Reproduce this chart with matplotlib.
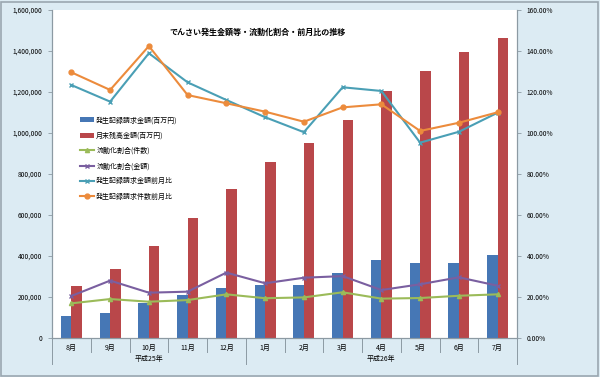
import matplotlib
matplotlib.use("Agg")
import matplotlib.pyplot as plt
import numpy as np
from matplotlib.patches import Rectangle

plt.rcParams['font.family'] = ['Noto Sans CJK JP', 'DejaVu Sans']

months = ["8月", "9月", "10月", "11月", "12月", "1月", "2月", "3月", "4月", "5月", "6月", "7月"]
years = ["平成25年", "平成26年"]
year_span = [5, 7]  # 各年の月数

hassei = [105000, 120000, 169000, 210000, 242000, 259000, 258000, 317000, 382000, 364000, 364000, 403000]
zandaka = [252000, 338000, 447000, 584000, 725000, 857000, 951000, 1063000, 1206000, 1304000, 1393000, 1463000]
ryudo_ken = [16.9, 19.0, 17.7, 18.5, 21.3, 19.4, 19.8, 22.3, 19.2, 19.5, 20.6, 21.3]
ryudo_kin = [20.5, 28.0, 22.1, 22.6, 31.9, 26.7, 29.4, 30.2, 23.4, 26.2, 29.6, 25.5]
kin_zengetsu = [123.4, 115.3, 138.9, 124.7, 116.1, 107.7, 100.4, 122.3, 120.5, 95.3, 100.6, 109.9]
ken_zengetsu = [129.6, 121.0, 142.4, 118.5, 114.5, 110.4, 105.5, 112.5, 114.0, 101.0, 105.0, 110.1]

bg = "#dcebf3"
fig = plt.figure(figsize=(6, 3.77), dpi=100, facecolor=bg)
fig.patches.append(Rectangle((0.002, 0.003), 0.994, 0.992, transform=fig.transFigure,
                             fill=False, edgecolor="#9aa7b0", lw=1.2))

ax = fig.add_axes([52/600, 39/377, 465/600, 328/377])
ax.set_facecolor("white")
ax2 = ax.twinx()

x = np.arange(len(months))
w = 0.27
b1 = ax.bar(x - w/2, hassei, w, color="#4677b5", label="発生記録請求金額(百万円)")
b2 = ax.bar(x + w/2, zandaka, w, color="#b9474a", label="月末残高金額(百万円)")

l1, = ax2.plot(x, ryudo_ken, color="#9bbb59", lw=1.5, marker="^", ms=3, label="流動化割合(件数)")
l2, = ax2.plot(x, ryudo_kin, color="#7a5fa0", lw=1.5, marker="x", ms=3, label="流動化割合(金額)")
l3, = ax2.plot(x, kin_zengetsu, color="#4a9fb5", lw=1.5, marker="x", ms=3, label="発生記録請求金額前月比")
l4, = ax2.plot(x, ken_zengetsu, color="#ec8b3c", lw=1.5, marker="o", ms=3.5, label="発生記録請求件数前月比")

ax.set_xlim(-0.5, len(months) - 0.5)
ax.set_ylim(0, 1600000)
ax2.set_ylim(0, 160)
ax.set_yticks(np.arange(0, 1600001, 200000))
ax.set_yticklabels([f"{v:,}" for v in range(0, 1600001, 200000)])
ax2.set_yticks(np.arange(0, 161, 20))
ax2.set_yticklabels([f"{v:.2f}%" for v in range(0, 161, 20)])

for a in (ax, ax2):
    a.spines["top"].set_visible(False)
    for s in ("left", "right", "bottom"):
        a.spines[s].set_color("#8c9aa3")
        a.spines[s].set_linewidth(0.8)
    a.tick_params(axis="y", labelsize=4.8, length=3, width=0.6, color="#8c9aa3", pad=4)

ax.set_xticks(x)
ax.set_xticklabels(months, fontsize=5)
ax.tick_params(axis="x", length=0, pad=4)

# 区切り線
tr = ax.get_xaxis_transform()
for i in range(len(months) + 1):
    bound = i - 0.5
    long = i in (0, year_span[0], len(months))
    ax.plot([bound, bound], [0, -0.08 if long else -0.042], transform=tr,
            color="#8c9aa3", lw=0.7, clip_on=False)
start = 0
for yname, n in zip(years, year_span):
    ax.text(start + (n - 1) / 2, -0.063, yname, transform=tr, ha="center", va="center", fontsize=5)
    start += n

fig.text(258/600, 1 - 32/377, "でんさい発生金額等・流動化割合・前月比の推移",
         ha="center", va="center", fontsize=5.8, fontweight="bold")

fig.legend([b1, b2, l1, l2, l3, l4], [h.get_label() for h in (b1, b2, l1, l2, l3, l4)],
           loc="upper left", bbox_to_anchor=(74/600, 1 - 110/377), frameon=False,
           fontsize=5, handlelength=2.0, labelspacing=1.05, handletextpad=0.3)

fig.savefig("out.png", dpi=100, facecolor=bg)
